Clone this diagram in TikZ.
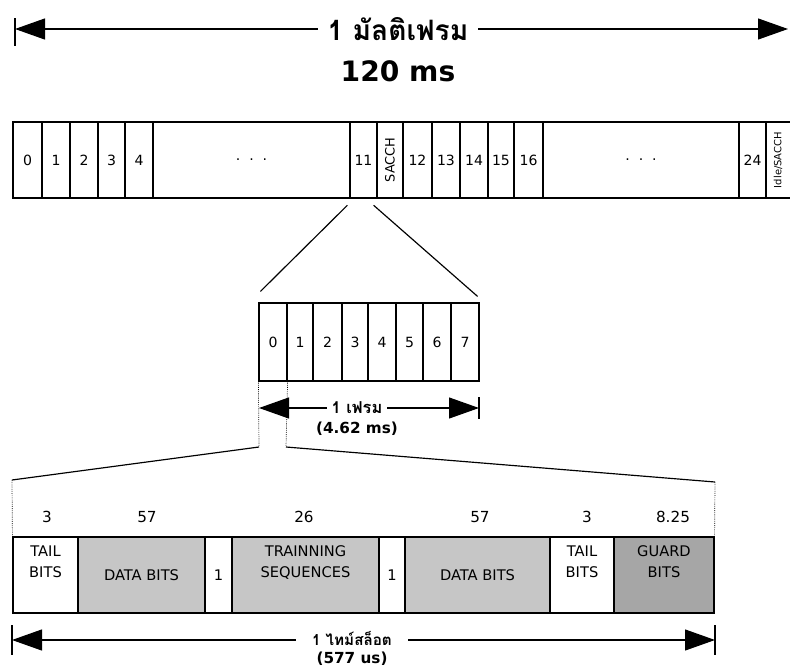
\documentclass[tikz,border=0pt]{standalone}
\usepackage{fontspec}
\setmainfont{DejaVu Sans}
\newfontfamily\thaifont[Script=Thai]{Loma}
\usetikzlibrary{arrows.meta}

\tikzset{
	cella/.style={draw, line width=1pt, inner sep=0pt, minimum height=22.8mm, font=\fontsize{12}{14}\selectfont},
	bits/.style={cella, align=center, font=\fontsize{12.5}{17.5}\selectfont},
	dades/.style={fill=gray!45},
	guarda/.style={fill=gray!70},
	linia/.style={line width=1pt},
	punts/.style={densely dotted, line width=0.6pt},
	fletxa/.style={line width=1pt, {Triangle[length=9mm,width=6.3mm]}-{Triangle[length=9mm,width=6.3mm]}},
	rotul/.style={fill=white, inner ysep=0pt, font=\thaifont\bfseries\fontsize{14}{16}\selectfont},
	temps/.style={font=\bfseries\fontsize{13}{15}\selectfont},
}

\begin{document}
\begin{tikzpicture}[x=0.3mm, y=-0.3mm]

	\useasboundingbox (0,0) rectangle (790,667);

	% Multitrama
	\coordinate (A1) at (15,29);
	\coordinate (A2) at (788,29);
	\draw[fletxa] (A1) -- (A2);
	\draw[linia] (15,18) -- (15,46);
	\node[rotul, inner xsep=8pt, font=\thaifont\bfseries\fontsize{24}{28}\selectfont] (multi) at (398,29) {1 มัลติเฟรม};
	\node[font=\bfseries\fontsize{24}{28}\selectfont] (multit) at (398,71) {120 ms};

	\foreach \nom/\a/\b/\lab in {T0/13/42/0, T1/42/70/1, T2/70/98/2, T3/98/125/3, T4/125/153/4,
		Ta/153/350/{.\ \ .\ \ .}, T11/350/377/11, Ts/377/403/{}, T12/403/432/12, T13/432/460/13,
		T14/460/488/14, T15/488/514/15, T16/514/543/16, Tb/543/739/{.\ \ .\ \ .}, T24/739/766/24, Ti/766/800/{}}
		\node[cella, minimum width={(\b-\a)*0.3mm}] (\nom) at ({(\a+\b)/2},160) {\lab};

	\node[rotate=90, font=\fontsize{11}{13}\selectfont] (Tst) at (Ts) {SACCH};
	\node[rotate=90, font=\fontsize{8.5}{10}\selectfont] (Tit) at (778,160) {Idle/SACCH};

	% Trama
	\foreach \nom/\a/\b/\lab in {M0/259/287/0, M1/287/313/1, M2/313/342/2, M3/342/368/3,
		M4/368/396/4, M5/396/423/5, M6/423/451/6, M7/451/479/7}
		\node[cella, minimum width={(\b-\a)*0.3mm}, minimum height=23.4mm] (\nom) at ({(\a+\b)/2},342) {\lab};

	\draw[linia] ([xshift=-0.6mm,yshift=-2mm]T11.south west) -- ([xshift=0.6mm,yshift=3.3mm]M0.north west);
	\draw[linia] ([xshift=-1.2mm,yshift=-2mm]T11.south east) -- ([xshift=-0.6mm,yshift=1.8mm]M7.north east);

	\coordinate (F1) at (259,408);
	\coordinate (F2) at (479,408);
	\draw[fletxa] (F1) -- (F2);
	\draw[linia] (479,397) -- (479,419);
	\node[rotul, inner xsep=4pt] (trama) at (357,408) {1 เฟรม};
	\node[temps] (tramat) at (357,429) {(4.62 ms)};

	% Ranura
	\coordinate (P1) at (259,447);
	\coordinate (P2) at (286,447);
	\coordinate (Q1) at (12,480);
	\coordinate (Q2) at (715,482);
	\draw[punts] (M0.south west) -- (P1);
	\draw[punts] (M0.south east) -- (P2);
	\draw[linia] (P1) -- (Q1);
	\draw[linia] (P2) -- (Q2);

	\node[bits, minimum width={65*0.3mm}] (B1) at (45.5,575) {TAIL\\BITS\\\strut};
	\node[bits, dades, minimum width={127*0.3mm}] (B2) at (141.5,575) {DATA BITS};
	\node[bits, minimum width={27*0.3mm}] (B3) at (218.5,575) {1};
	\node[bits, dades, minimum width={147*0.3mm}] (B4) at (305.5,575) {TRAINNING\\SEQUENCES\\\strut};
	\node[bits, minimum width={26*0.3mm}] (B5) at (392,575) {1};
	\node[bits, dades, minimum width={145*0.3mm}] (B6) at (477.5,575) {DATA BITS};
	\node[bits, minimum width={64*0.3mm}] (B7) at (582,575) {TAIL\\BITS\\\strut};
	\node[bits, guarda, minimum width={100*0.3mm}] (B8) at (664,575) {GUARD\\BITS\\\strut};

	\draw[punts] (Q1) -- (B1.north west);
	\draw[punts] (Q2) -- (B8.north east);

	\foreach \nom/\x/\lab in {N1/47/3, N2/147/57, N3/304/26, N4/480/57, N5/587/3, N6/673/8.25}
		\node[font=\fontsize{13}{15}\selectfont] (\nom) at (\x,517) {\lab};

	\coordinate (R1) at (12,640);
	\coordinate (R2) at (715,640);
	\draw[fletxa] (R1) -- (R2);
	\draw[linia] (12,625) -- (12,655);
	\draw[linia] (715,625) -- (715,655);
	\node[rotul, inner xsep=14pt, font=\thaifont\bfseries\fontsize{13}{15}\selectfont] (ranura) at (352,638) {1 ไทม์สล็อต};
	\node[temps] (ranurat) at (352,659) {(577 us)};

\end{tikzpicture}
\end{document}
